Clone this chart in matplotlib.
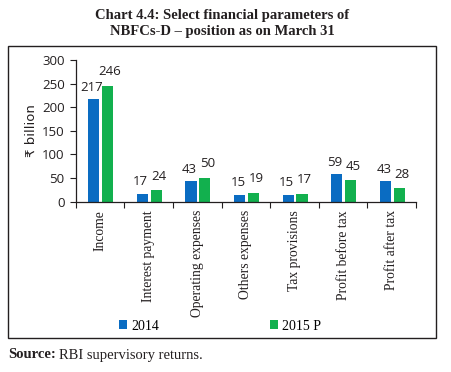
import matplotlib

matplotlib.use("Agg")
import matplotlib.pyplot as plt
from matplotlib.patches import Rectangle
import numpy as np

BLUE = "#0a6cc2"
GREEN = "#12b04e"
INK = "#231f20"

categories = ["Income", "Interest payment", "Operating expenses",
              "Others expenses", "Tax provisions", "Profit before tax",
              "Profit after tax"]
values_2014 = [217, 17, 43, 15, 15, 59, 43]
values_2015 = [246, 24, 50, 19, 17, 45, 28]
series_labels = ["2014", "2015 P"]
y_ticks = [0, 50, 100, 150, 200, 250, 300]

W, H = 451, 372
fig = plt.figure(figsize=(W / 100, H / 100), dpi=100, facecolor="white")

# outer frame around the chart body
fig.patches.append(Rectangle((8 / W, 1 - 338 / H), 428 / W, 292 / H,
                             transform=fig.transFigure, fill=False,
                             edgecolor=INK, linewidth=1.0))

ax = fig.add_axes([75.7 / W, 1 - 201.7 / H, 340.3 / W, 141.7 / H])

x = np.arange(len(categories))
bw = 0.23
b1 = ax.bar(x - 0.13, values_2014, bw, color=BLUE, label=series_labels[0])
b2 = ax.bar(x + 0.155, values_2015, bw, color=GREEN, label=series_labels[1])

# labels sit a little apart, as in the source (green ones slightly higher)
for bars, vals, dx, dy in ((b1, values_2014, -1.2, 3.8),
                           (b2, values_2015, 1.8, 5.5)):
    for rect, v in zip(bars, vals):
        ax.annotate(f"{v}", (rect.get_x() + rect.get_width() / 2, v),
                    textcoords="offset points", xytext=(dx, dy),
                    ha="center", va="bottom", fontsize=9.5, color=INK,
                    family="Open Sans")

ax.set_xlim(-0.5, len(categories) - 0.5)
ax.set_ylim(0, 300)
ax.set_yticks(y_ticks)
ax.set_yticklabels([str(t) for t in y_ticks], family="Open Sans",
                   fontsize=9.5, color=INK)

ax.set_xticks(np.arange(len(categories) + 1) - 0.5)
ax.set_xticklabels([])
ax.set_xticks(x, minor=True)
ax.set_xticklabels(categories, minor=True, rotation=90, fontsize=9.8,
                   family="Liberation Serif", color=INK, va="top")
ax.tick_params(axis="x", which="minor", length=0, pad=6)
ax.tick_params(axis="x", which="major", length=4, color=INK, direction="out")
ax.tick_params(axis="y", length=4, color=INK, direction="out", pad=4)

for s in ("top", "right"):
    ax.spines[s].set_visible(False)
for s in ("left", "bottom"):
    ax.spines[s].set_color(INK)
    ax.spines[s].set_linewidth(0.9)

ax.set_ylabel("₹ billion", fontsize=9.5, family="DejaVu Sans", color=INK,
              labelpad=3)

fig.legend(loc="center", bbox_to_anchor=(220 / W, 1 - 326 / H), ncol=2,
           frameon=False, handlelength=0.6, handleheight=0.6,
           handletextpad=0.3, columnspacing=8.0,
           prop={"family": "Liberation Serif", "size": 10})

fig.text(222 / W, 1 - 15 / H, "Chart 4.4: Select financial parameters of",
         ha="center", va="center", fontsize=10.5, fontweight="bold",
         family="Liberation Serif", color=INK)
fig.text(222 / W, 1 - 32 / H, "NBFCs-D – position as on March 31",
         ha="center", va="center", fontsize=10.5, fontweight="bold",
         family="Liberation Serif", color=INK)

src = fig.text(8 / W, 1 - 355 / H, "Source:", ha="left", va="center",
               fontsize=10.5, fontweight="bold", family="Liberation Serif",
               color=INK)
fig.canvas.draw()
bb = src.get_window_extent()
fig.text(bb.x1 / W + 3 / W, 1 - 355 / H, "RBI supervisory returns.",
         ha="left", va="center", fontsize=10.5, family="Liberation Serif",
         color=INK)

fig.savefig("out.png", dpi=100, facecolor="white")
